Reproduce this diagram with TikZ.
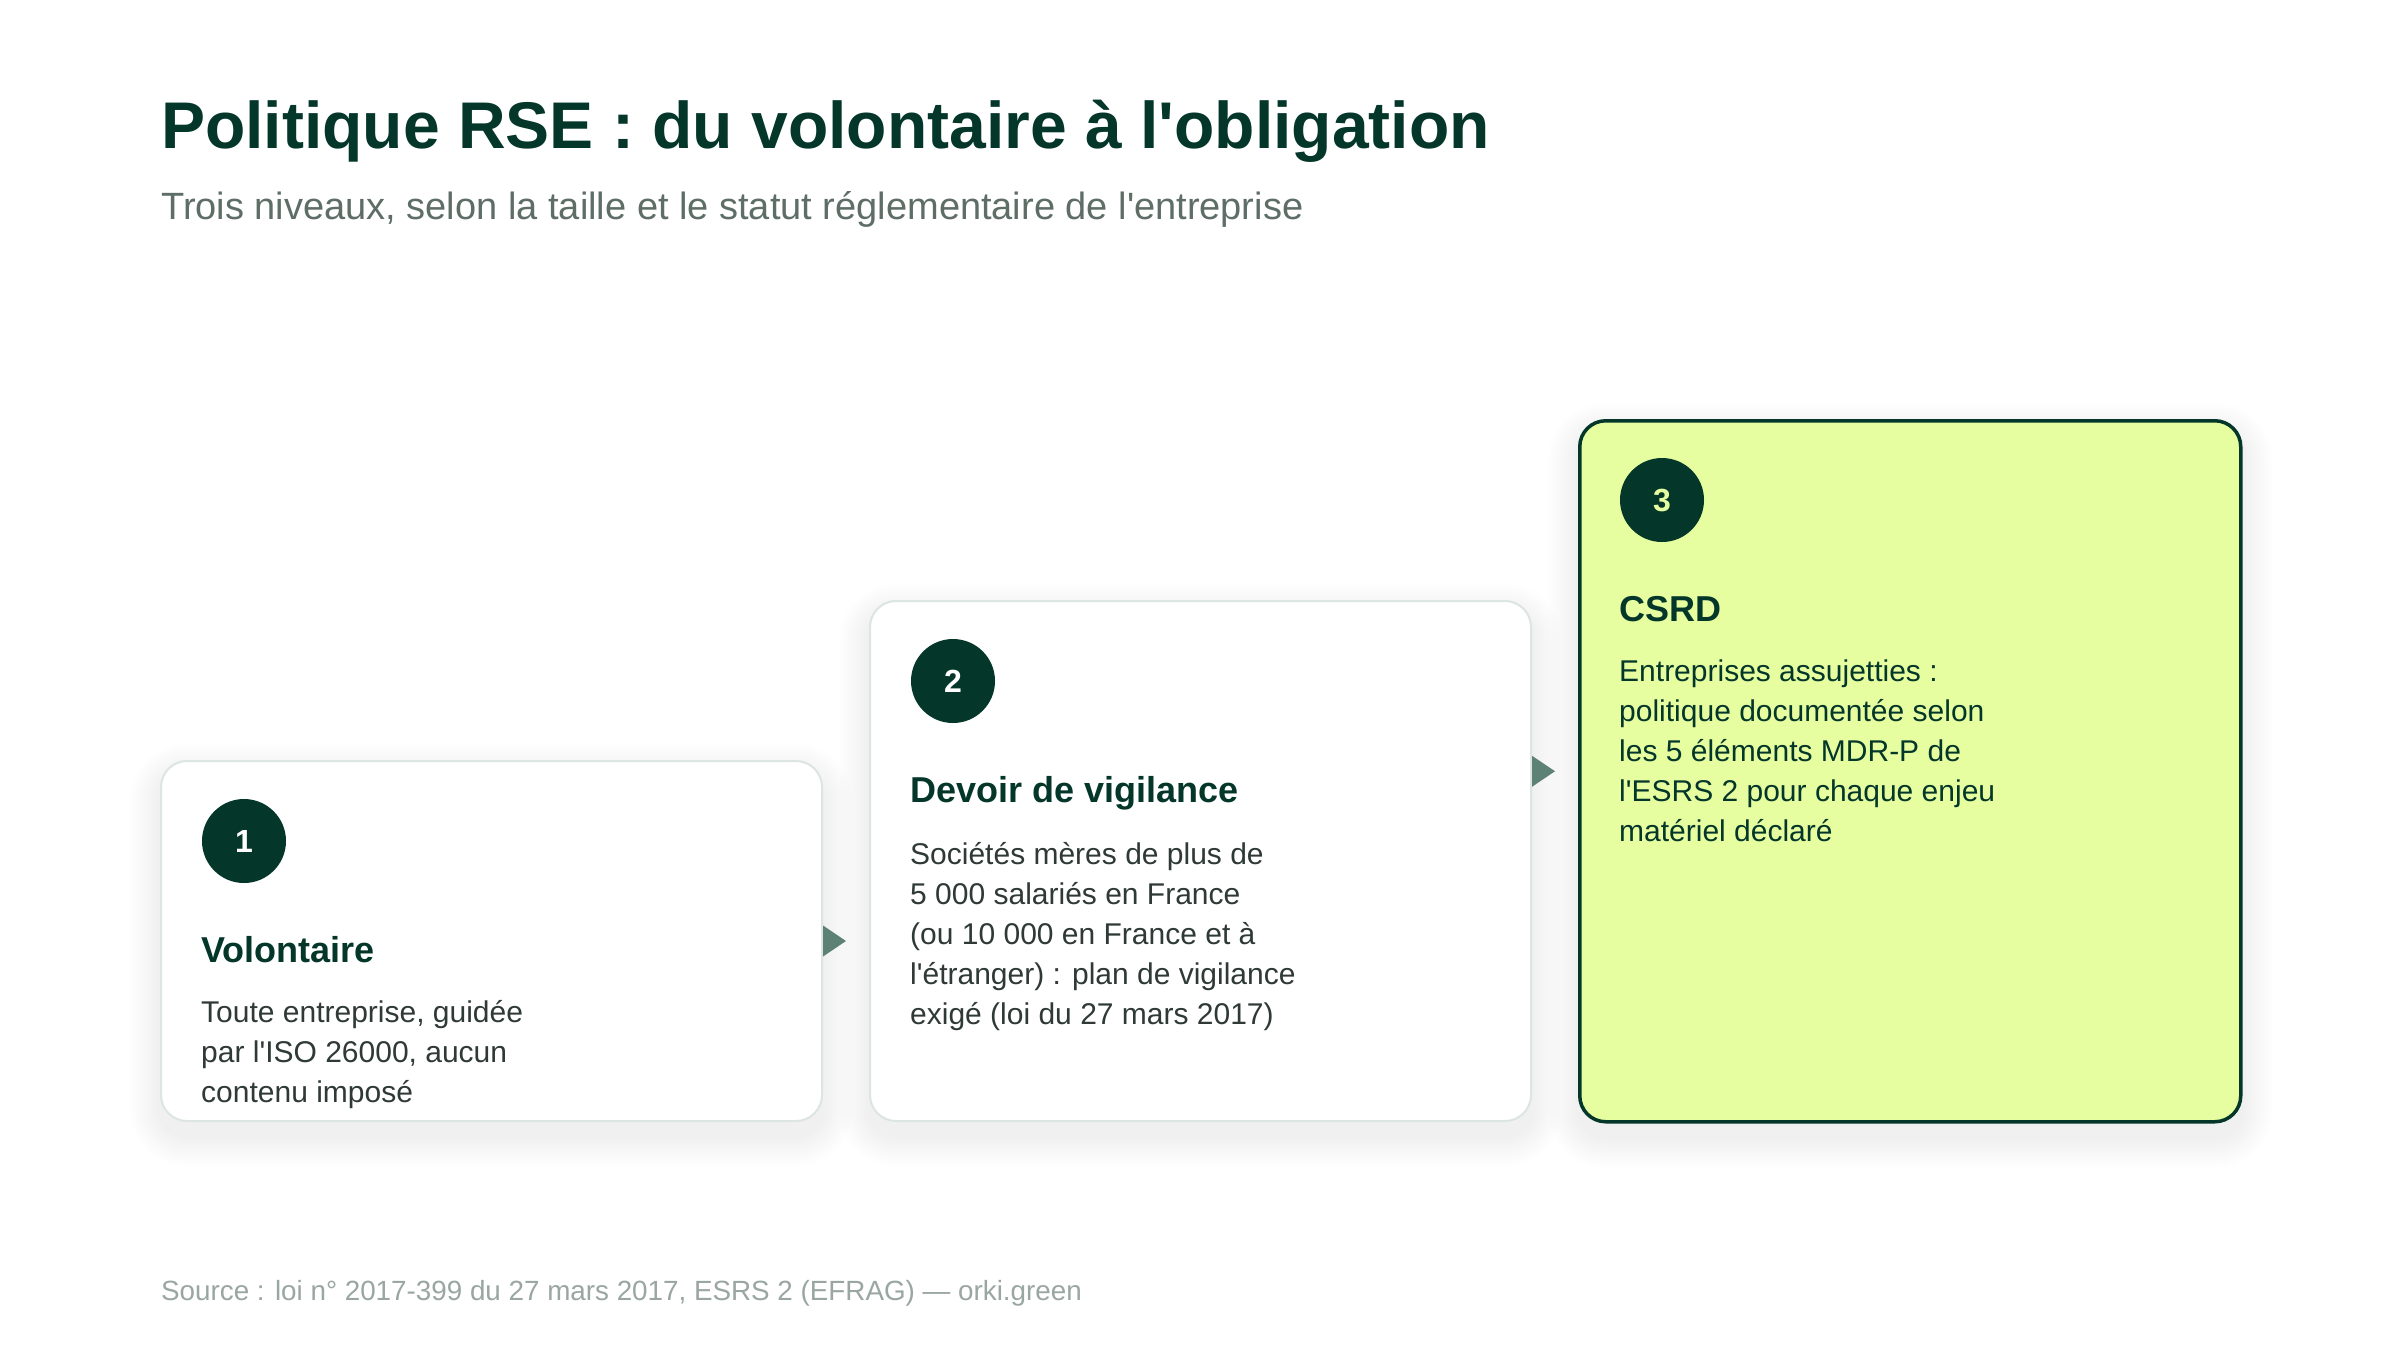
\documentclass[tikz,border=0pt]{standalone}
\usepackage{fontspec}
\setmainfont{Liberation Sans}[Ligatures=TeXOff]
\usetikzlibrary{positioning}

\pgfdeclarelayer{fond}
\pgfdeclarelayer{ombre}
\pgfsetlayers{fond,ombre,main}

\definecolor{vertfonce}{HTML}{04372A}
\definecolor{citron}{HTML}{E6FDA0}
\definecolor{bordclair}{HTML}{DCE5E1}
\definecolor{grisvert}{HTML}{5E6E67}
\definecolor{texte}{HTML}{2F3A36}
\definecolor{fleche}{HTML}{5E8176}
\definecolor{source}{HTML}{9AA6A1}
\definecolor{ombrec}{HTML}{2A4A3F}

% ombre douce sous une carte (calques superposes)
\newcommand{\ombrecarte}[1]{%
    \begin{pgfonlayer}{ombre}
        \foreach \d in {2,4,...,30} {
            \fill[ombrec, opacity=0.0035, rounded corners={(26+\d)*1pt}]
                ([xshift={-\d*1pt}, yshift={-(\d+14)*1pt}]#1.south west)
                rectangle ([xshift={\d*1pt}, yshift={(\d-14)*1pt}]#1.north east);
        }
    \end{pgfonlayer}
}

\begin{document}
\begin{tikzpicture}[
        % 1 unite = 1 pixel de l'image, y vers le bas
        x=1pt, y=-1pt,
        % carte blanche a bord clair
        carte/.style={
            rectangle,
            rounded corners=26pt,
            draw=bordclair,     % bord gris-vert
            line width=2pt,
            fill=white,
            minimum width=661pt,
            inner sep=0pt,
            anchor=north west
        },
        % derniere carte (mise en avant)
        cartefinale/.style={
            carte,
            draw=vertfonce,
            line width=3.5pt,
            fill=citron
        },
        % pastille numerotee
        pastille/.style={
            circle,
            fill=vertfonce,
            text=white,
            minimum size=84pt,
            inner sep=0pt,
            font=\fontsize{32}{32}\selectfont\bfseries
        },
        titrecarte/.style={
            anchor=base west, inner sep=0pt,
            text=vertfonce,
            font=\fontsize{36}{40}\selectfont\bfseries
        },
        % texte sur plusieurs lignes : la base est celle de la derniere ligne
        corps/.style={
            anchor=base west, inner sep=0pt,
            align=left,
            text=texte,
            font=\fontsize{30}{40}\selectfont
        },
        pointe/.style={
            fill=fleche
        }
    ]
        \useasboundingbox (0,0) rectangle (2400,1350);
        \begin{pgfonlayer}{fond}
            \fill[white] (0,0) rectangle (2400,1350);
        \end{pgfonlayer}

        % --- 1. Titre et sous-titre ---
        \node[anchor=base west, inner sep=0pt, text=vertfonce,
              font=\fontsize{66}{70}\selectfont\bfseries] (titre) at (161,148)
              {Politique RSE : du volontaire à l'obligation};
        \node[anchor=base west, inner sep=0pt, text=grisvert,
              font=\fontsize{38}{44}\selectfont] (soustitre) at (161,219)
              {Trois niveaux, selon la taille et le statut réglementaire de l'entreprise};

        % --- 2. Les trois cartes (en escalier) ---
        \node[carte, minimum height=360pt] (c1) at (160,760) {};
        \node[carte, minimum height=520pt] (c2) at (869,600) {};
        \node[cartefinale, minimum height=701pt] (c3) at (1578,419) {};

        \foreach \c in {c1,c2,c3} {
            \ombrecarte{\c}
        }

        % --- 3. Pastilles ---
        \node[pastille] (p1) at ([xshift=84pt, yshift=-81pt]c1.north west) {1};
        \node[pastille] (p2) at ([xshift=84pt, yshift=-81pt]c2.north west) {2};
        \node[pastille, text=citron] (p3) at ([xshift=84pt, yshift=-81pt]c3.north west) {3};

        % --- 4. Titres et textes des cartes ---
        \node[titrecarte] (t1) at ([xshift=41pt, yshift=-202pt]c1.north west) {Volontaire};
        \node[corps] (x1) at ([xshift=41pt, yshift=-342pt]c1.north west)
            {Toute entreprise, guidée\\par l'ISO 26000, aucun\\contenu imposé};

        \node[titrecarte] (t2) at ([xshift=41pt, yshift=-202pt]c2.north west) {Devoir de vigilance};
        \node[corps] (x2) at ([xshift=41pt, yshift=-424pt]c2.north west)
            {Sociétés mères de plus de\\5 000 salariés en France\\(ou 10 000 en France et à\\l'étranger) : plan de vigilance\\exigé (loi du 27 mars 2017)};

        \node[titrecarte] (t3) at ([xshift=41pt, yshift=-202pt]c3.north west) {CSRD};
        \node[corps, text=vertfonce] (x3) at ([xshift=41pt, yshift=-422pt]c3.north west)
            {Entreprises assujetties :\\politique documentée selon\\les 5 éléments MDR-P de\\l'ESRS 2 pour chaque enjeu\\matériel déclaré};

        % --- 5. Fleches entre les cartes ---
        \fill[pointe] ([yshift=15.5pt]c1.east) -- ([yshift=-15.5pt]c1.east) -- ([xshift=23pt]c1.east) -- cycle;
        \coordinate (f2) at (c2.east |- c3.west);
        \fill[pointe] ([yshift=15.5pt]f2) -- ([yshift=-15.5pt]f2) -- ([xshift=23pt]f2) -- cycle;

        % --- 6. Source ---
        \node[anchor=base west, inner sep=0pt, text=source,
              font=\fontsize{27.8}{32}\selectfont] (source) at (161,1300)
              {Source : loi n° 2017-399 du 27 mars 2017, ESRS 2 (EFRAG) — orki.green};

    \end{tikzpicture}
\end{document}
